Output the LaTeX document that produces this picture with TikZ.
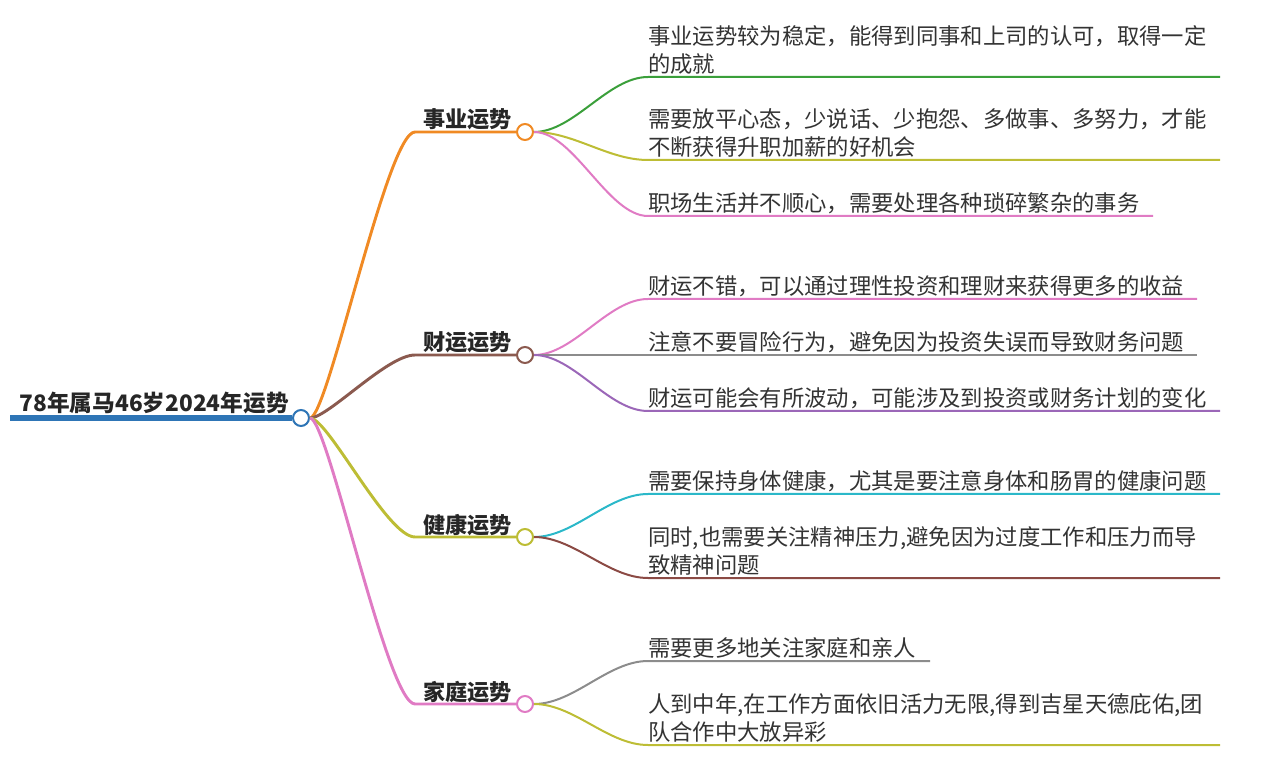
\documentclass[tikz,border=0pt]{standalone}
\usepackage{fontspec}
\setmainfont{Noto Sans CJK SC}
\usetikzlibrary{positioning}

\definecolor{rootblue}{HTML}{2E75B6}
\definecolor{orange1}{HTML}{F08A24}
\definecolor{brown1}{HTML}{8B5A4F}
\definecolor{olive1}{HTML}{BDBD35}
\definecolor{pink1}{HTML}{E07BC4}
\definecolor{green1}{HTML}{3A9F3A}
\definecolor{gray1}{HTML}{8C8C8C}
\definecolor{purple1}{HTML}{9B67B8}
\definecolor{cyan1}{HTML}{2BB8C9}
\definecolor{brown2}{HTML}{8B4A44}

\begin{document}
\begin{tikzpicture}[
    x=0.75pt,
    y=-0.75pt,
    hub/.style={circle,draw,fill=white,line width=1.5pt,minimum size=12pt,inner sep=0pt},
    topic/.style={anchor=base east,inner sep=0pt,text=black!85,font=\bfseries\fontsize{16.6}{20}\selectfont},
    leaf/.style={anchor=south west,inner sep=0pt,align=left,text=black!80,font=\fontsize{16.75}{21}\selectfont},
    branch/.style={line width=2.2pt},
    twig/.style={line width=1.5pt}
]
\useasboundingbox (0,0) rectangle (1286,766);

% root
\node[hub,draw=rootblue] (root) at (301,418) {};
\node[topic,font=\bfseries\fontsize{17}{20}\selectfont] (title) at (289,412) {78年属马46岁2024年运势};
\coordinate (r0) at (10,418);
\draw[rootblue,line width=3.8pt] (r0) -- (root.west);

% main topics
\node[hub,draw=orange1] (m1) at (525,132) {};
\node[hub,draw=brown1] (m2) at (525,355) {};
\node[hub,draw=olive1] (m3) at (525,537) {};
\node[hub,draw=pink1] (m4) at (525,704) {};

\node[topic] (t1) at (512,128) {事业运势};
\node[topic] (t2) at (512,351) {财运运势};
\node[topic] (t3) at (512,533) {健康运势};
\node[topic] (t4) at (512,700) {家庭运势};

\coordinate (s1) at (415,132);
\coordinate (s2) at (415,355);
\coordinate (s3) at (415,537);
\coordinate (s4) at (415,704);

\draw[branch,orange1] (root.east) .. controls +(18,0) and +(-28,0) .. (s1) -- (m1.west);
\draw[branch,brown1] (root.east) .. controls +(18,0) and +(-28,0) .. (s2) -- (m2.west);
\draw[branch,olive1] (root.east) .. controls +(18,0) and +(-28,0) .. (s3) -- (m3.west);
\draw[branch,pink1] (root.east) .. controls +(18,0) and +(-28,0) .. (s4) -- (m4.west);

% leaves
\node[leaf] (l11) at (648,75) {事业运势较为稳定，能得到同事和上司的认可，取得一定\\的成就};
\node[leaf] (l12) at (648,158) {需要放平心态，少说话、少抱怨、多做事、多努力，才能\\不断获得升职加薪的好机会};
\node[leaf] (l13) at (648,214) {职场生活并不顺心，需要处理各种琐碎繁杂的事务};
\node[leaf] (l21) at (648,297) {财运不错，可以通过理性投资和理财来获得更多的收益};
\node[leaf] (l22) at (648,353) {注意不要冒险行为，避免因为投资失误而导致财务问题};
\node[leaf] (l23) at (648,409) {财运可能会有所波动，可能涉及到投资或财务计划的变化};
\node[leaf] (l31) at (648,492) {需要保持身体健康，尤其是要注意身体和肠胃的健康问题};
\node[leaf] (l32) at (648,576) {同时,也需要关注精神压力,避免因为过度工作和压力而导\\致精神问题};
\node[leaf] (l41) at (648,659) {需要更多地关注家庭和亲人};
\node[leaf] (l42) at (648,743) {人到中年,在工作方面依旧活力无限,得到吉星天德庇佑,团\\队合作中大放异彩};

\coordinate (a11) at (648,77);  \coordinate (b11) at (1220,77);
\coordinate (a12) at (648,160); \coordinate (b12) at (1220,160);
\coordinate (a13) at (648,216); \coordinate (b13) at (1153,216);
\coordinate (a21) at (648,299); \coordinate (b21) at (1197,299);
\coordinate (a22) at (648,355); \coordinate (b22) at (1197,355);
\coordinate (a23) at (648,411); \coordinate (b23) at (1220,411);
\coordinate (a31) at (648,494); \coordinate (b31) at (1220,494);
\coordinate (a32) at (648,578); \coordinate (b32) at (1220,578);
\coordinate (a41) at (648,661); \coordinate (b41) at (930,661);
\coordinate (a42) at (648,745); \coordinate (b42) at (1220,745);

\draw[twig,green1] (m1.east) .. controls +(40,0) and +(-40,0) .. (a11) -- (b11);
\draw[twig,olive1] (m1.east) .. controls +(40,0) and +(-40,0) .. (a12) -- (b12);
\draw[twig,pink1] (m1.east) .. controls +(40,0) and +(-40,0) .. (a13) -- (b13);
\draw[twig,pink1] (m2.east) .. controls +(40,0) and +(-40,0) .. (a21) -- (b21);
\draw[twig,gray1] (m2.east) -- (a22) -- (b22);
\draw[twig,purple1] (m2.east) .. controls +(40,0) and +(-40,0) .. (a23) -- (b23);
\draw[twig,cyan1] (m3.east) .. controls +(40,0) and +(-40,0) .. (a31) -- (b31);
\draw[twig,brown2] (m3.east) .. controls +(40,0) and +(-40,0) .. (a32) -- (b32);
\draw[twig,gray1] (m4.east) .. controls +(40,0) and +(-40,0) .. (a41) -- (b41);
\draw[twig,olive1] (m4.east) .. controls +(40,0) and +(-40,0) .. (a42) -- (b42);

\end{tikzpicture}
\end{document}
